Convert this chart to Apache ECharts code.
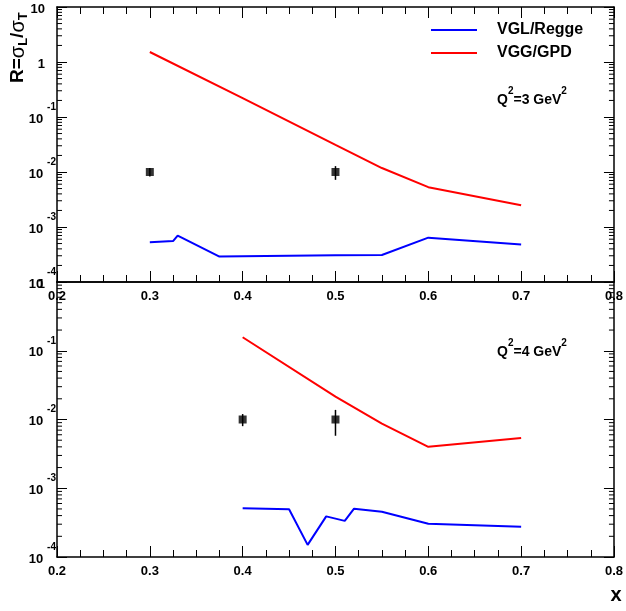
<!DOCTYPE html>
<html><head><meta charset="utf-8">
<script src="https://cdn.jsdelivr.net/npm/echarts@6/dist/echarts.min.js"></script>
<style>html,body{margin:0;padding:0;background:#fff}#c{width:626px;height:611px}</style>
</head><body><div id="c"></div>
<script>
// ---- data ----
const xTickLabels = ['0.2','0.3','0.4','0.5','0.6','0.7','0.8'];
// Q^2 = 3 GeV^2 (top)
const topReggeX = [0.3, 0.325, 0.33, 0.375, 0.5, 0.55, 0.6, 0.7];
const topReggeY = [5.3e-4, 5.55e-4, 7.0e-4, 2.9e-4, 3.05e-4, 3.1e-4, 6.4e-4, 4.8e-4];
const topGpdX = [0.3, 0.4, 0.5, 0.55, 0.6, 0.7];
const topGpdY = [1.52, 0.22, 0.031, 0.0118, 0.0053, 0.00248];
const topDataX = [0.3, 0.5];
const topDataY = [0.01, 0.01];
const topDataLo = [0.0083, 0.0072];
const topDataHi = [0.0118, 0.0128];
// Q^2 = 4 GeV^2 (bottom)
const botReggeX = [0.4, 0.45, 0.47, 0.49, 0.51, 0.52, 0.55, 0.6, 0.7];
const botReggeY = [5.1e-4, 4.95e-4, 1.5e-4, 3.9e-4, 3.35e-4, 5.05e-4, 4.55e-4, 3.05e-4, 2.75e-4];
const botGpdX = [0.4, 0.5, 0.55, 0.6, 0.7];
const botGpdY = [0.157, 0.0215, 0.0087, 0.0040, 0.0054];
const botDataX = [0.4, 0.5];
const botDataY = [0.01, 0.01];
const botDataLo = [0.0080, 0.0058];
const botDataHi = [0.0120, 0.0138];

const FONT = '"Liberation Sans", Arial, Helvetica, sans-serif';
const zip = (a, b) => a.map((v, i) => [v, b[i]]);

function minorVals(kMin, kMax) {
  const out = [];
  for (let k = kMin; k < kMax; k++) for (let m = 2; m <= 9; m++) out.push(m * Math.pow(10, k));
  return out;
}

function logLabel(v) {
  const e = Math.round(Math.log10(v));
  if (e === 0) return '{b|1}{sp| }';
  if (e === 1) return '{b|10}{sp| }';
  return '{b|10}{s|' + e + '}';
}
const yRich = {
  b: {fontSize: 13, fontWeight: 'bold', fontFamily: FONT, color: '#000', padding: [4, 0, 0, 0]},
  s: {fontSize: 10, fontWeight: 'bold', fontFamily: FONT, color: '#000', padding: [0, 0, 20, 4]},
  sp: {width: 11, fontSize: 13}
};

function xAxisBase(grid, pos, labels, ticks) {
  return {
    type: 'value', gridIndex: grid, position: pos, min: 0.2, max: 0.8, interval: 0.1,
    axisLine: {show: true, onZero: false, lineStyle: {color: '#000', width: 1.5}},
    axisTick: {show: ticks, inside: true, length: 11, lineStyle: {color: '#000', width: 1}},
    minorTick: {show: ticks, splitNumber: 4, length: 7, lineStyle: {color: '#000', width: 1}},
    splitLine: {show: false},
    axisLabel: {show: labels, margin: 8, fontSize: 13, fontWeight: 'bold', fontFamily: FONT, color: '#000',
      showMinLabel: true, showMaxLabel: true, formatter: v => v.toFixed(1)}
  };
}
function yAxisBase(grid, pos, min, max, labels) {
  return {
    type: 'log', logBase: 10, gridIndex: grid, position: pos, min: min, max: max,
    axisLine: {show: true, onZero: false, lineStyle: {color: '#000', width: 1.5}},
    axisTick: {show: true, inside: true, length: 10, lineStyle: {color: '#000', width: 1}},
    splitLine: {show: false},
    axisLabel: {show: labels, margin: 1, showMinLabel: true, showMaxLabel: true,
      formatter: logLabel, rich: yRich}
  };
}

function minorTickSeries(xi, yi, vals) {
  return {
    type: 'custom', xAxisIndex: xi, yAxisIndex: yi, silent: true, clip: false, z: 5,
    data: vals.map(v => [0.2, v]),
    renderItem(params, api) {
      const v = api.value(1);
      const pl = api.coord([0.2, v]);
      const pr = api.coord([0.8, v]);
      return {type: 'group', children: [
        {type: 'line', shape: {x1: pl[0], y1: pl[1], x2: pl[0] + 5, y2: pl[1]}, style: {stroke: '#000', lineWidth: 1}},
        {type: 'line', shape: {x1: pr[0], y1: pr[1], x2: pr[0] - 5, y2: pr[1]}, style: {stroke: '#000', lineWidth: 1}}
      ]};
    }
  };
}
function errSeries(xi, yi, xs, lo, hi) {
  return {
    type: 'custom', xAxisIndex: xi, yAxisIndex: yi, silent: true, z: 6,
    encode: {x: 0, y: [1, 2]},
    data: xs.map((x, i) => [x, lo[i], hi[i]]),
    renderItem(params, api) {
      const a = api.coord([api.value(0), api.value(1)]);
      const b = api.coord([api.value(0), api.value(2)]);
      return {type: 'line', shape: {x1: a[0], y1: a[1], x2: b[0], y2: b[1]}, style: {stroke: '#000', lineWidth: 1.5}};
    }
  };
}
function lineSeries(name, color, xi, yi, xs, ys) {
  return {type: 'line', name, xAxisIndex: xi, yAxisIndex: yi, data: zip(xs, ys), symbol: 'none',
    lineStyle: {color, width: 2}, itemStyle: {color}, z: 4};
}
function pointSeries(xi, yi, xs, ys) {
  return {type: 'scatter', xAxisIndex: xi, yAxisIndex: yi, data: zip(xs, ys), symbol: 'rect', symbolSize: 8,
    itemStyle: {color: '#000'}, z: 7};
}

const supRich = {
  q: {fontSize: 14, fontWeight: 'bold', fontFamily: FONT, color: '#000'},
  s: {fontSize: 10, fontWeight: 'bold', fontFamily: FONT, color: '#000', padding: [0, 0, 17, 0]}
};

const option = {
  animation: false,
  backgroundColor: '#fff',
  grid: [
    {left: 57, right: 8, top: 7, height: 275},
    {left: 57, right: 8, top: 282, height: 275}
  ],
  xAxis: [
    xAxisBase(0, 'bottom', true, true),
    xAxisBase(0, 'top', false, true),
    xAxisBase(1, 'bottom', true, true),
    xAxisBase(1, 'top', false, false)
  ],
  yAxis: [
    yAxisBase(0, 'left', 1e-4, 10, true),
    yAxisBase(0, 'right', 1e-4, 10, false),
    yAxisBase(1, 'left', 1e-4, 1, true),
    yAxisBase(1, 'right', 1e-4, 1, false)
  ],
  legend: {
    data: ['VGL/Regge', 'VGG/GPD'], orient: 'vertical', left: 431, top: 22, padding: 0,
    icon: 'rect', itemWidth: 46, itemHeight: 2, itemGap: 7, selectedMode: false,
    formatter: n => '{g| }{t|' + n + '}',
    textStyle: {color: '#000', rich: {g: {width: 15}, t: {fontSize: 16, fontWeight: 'bold', fontFamily: FONT, color: '#000', lineHeight: 16}}}
  },
  graphic: [
    {type: 'text', x: 497, y: 100, style: {text: '{q|Q}{s|2}{q|=3 GeV}{s|2}', rich: supRich, align: 'left', verticalAlign: 'middle'}},
    {type: 'text', x: 497, y: 352, style: {text: '{q|Q}{s|2}{q|=4 GeV}{s|2}', rich: supRich, align: 'left', verticalAlign: 'middle'}},
    {type: 'text', x: 18, y: 83, rotation: Math.PI / 2, style: {
      text: '{n|R=}{g|σ}{sub|L}{n|/}{g|σ}{sub|T}', align: 'left', verticalAlign: 'middle',
      rich: {
        n: {fontSize: 19, fontWeight: 'bold', fontFamily: FONT, color: '#000'},
        g: {fontSize: 20, fontWeight: 'normal', fontFamily: FONT, color: '#000'},
        sub: {fontSize: 13, fontWeight: 'bold', fontFamily: FONT, color: '#000', padding: [10, 0, 0, 0]}
      }}},
    {type: 'text', x: 616, y: 595, style: {text: 'x', fontSize: 20, fontWeight: 'bold', fontFamily: FONT, fill: '#000', align: 'center', verticalAlign: 'middle'}}
  ],
  series: [
    lineSeries('VGL/Regge', '#0000ff', 0, 0, topReggeX, topReggeY),
    lineSeries('VGG/GPD', '#ff0000', 0, 0, topGpdX, topGpdY),
    errSeries(0, 0, topDataX, topDataLo, topDataHi),
    pointSeries(0, 0, topDataX, topDataY),
    lineSeries('VGL/Regge', '#0000ff', 2, 2, botReggeX, botReggeY),
    lineSeries('VGG/GPD', '#ff0000', 2, 2, botGpdX, botGpdY),
    errSeries(2, 2, botDataX, botDataLo, botDataHi),
    pointSeries(2, 2, botDataX, botDataY),
    minorTickSeries(0, 0, minorVals(-4, 1)),
    minorTickSeries(2, 2, minorVals(-4, 0))
  ]
};
const chart = echarts.init(document.getElementById('c'), null, {renderer: 'canvas'});
chart.setOption(option);
</script></body></html>
